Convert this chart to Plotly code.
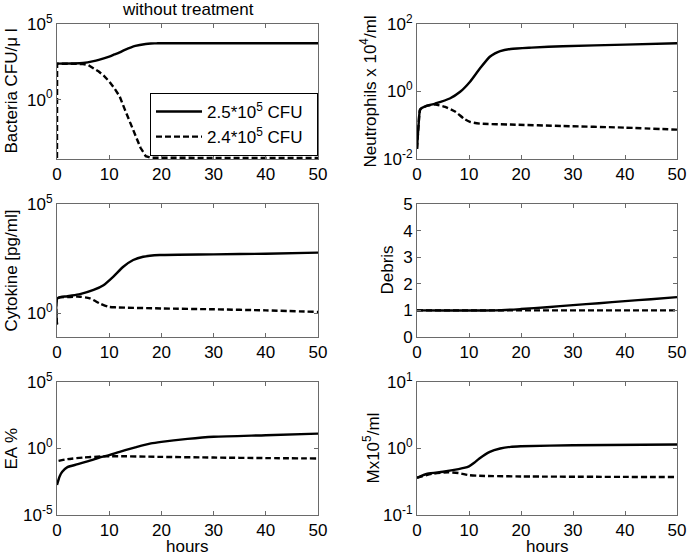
import plotly.graph_objects as go

# ---------------- data ----------------
bac_t_hi = [0, 3, 5, 7, 8, 10, 11, 12, 13, 15, 17, 18, 19, 20, 30, 50]
bac_hi = [240, 245, 263, 350, 430, 708, 977, 1350, 1950, 3550, 4790, 5130, 5250, 5370, 5370, 5370]
bac_t_lo = [0, 0.02, 3, 5, 6, 7, 8, 9, 10, 11, 12, 13, 14, 15, 16, 17, 18, 50]
bac_lo = [1.4e-4, 240, 235, 225, 190, 120, 72, 37, 16, 5.6, 1.66, 0.22, 0.029, 0.004,
          6.6e-4, 1.86e-4, 1.45e-4, 1.4e-4]

neu_t_hi = [0, 0.3, 0.6, 1, 2, 3.5, 6.3, 8.3, 10.2, 12.1, 14, 15, 16, 18, 22, 28, 40, 50]
neu_hi = [0.02, 0.1, 0.29, 0.33, 0.38, 0.44, 0.62, 0.98, 1.95, 4.8, 10.7, 13.5, 15.8,
          18.2, 20.0, 21.9, 24.5, 26.9]
neu_t_lo = [0, 0.3, 0.6, 1, 2, 3.5, 5.4, 7.4, 9, 10.2, 12.1, 18, 28, 40, 50]
neu_lo = [0.02, 0.1, 0.29, 0.33, 0.38, 0.41, 0.35, 0.25, 0.158, 0.126, 0.112, 0.105,
          0.095, 0.085, 0.074]

cyt_t_hi = [0, 0.1, 2, 4.4, 7, 8.9, 10.8, 12.7, 14.6, 16.5, 19.7, 30, 40, 50]
cyt_hi = [0.3, 4.7, 5.9, 7.4, 11.5, 19, 47, 132, 269, 380, 457, 490, 525, 589]
cyt_t_lo = [0, 0.1, 2, 4.4, 6.3, 8.2, 9.8, 11.4, 20, 30, 40, 50]
cyt_lo = [0.3, 4.7, 5.4, 5.6, 4.7, 2.75, 1.95, 1.82, 1.62, 1.48, 1.32, 1.12]

deb_t_hi = [0, 15, 20, 25, 30, 35, 40, 45, 50]
deb_hi = [1, 1, 1.05, 1.12, 1.2, 1.27, 1.35, 1.42, 1.5]
deb_t_lo = [0, 50]
deb_lo = [1, 1]

ea_t_hi = [0, 0.5, 1, 2, 4, 6, 8, 10, 12, 15, 18, 20, 25, 30, 40, 50]
ea_hi = [1.8e-3, 7.9e-3, 0.0178, 0.04, 0.066, 0.112, 0.2, 0.316, 0.56, 1.2, 2.4, 3.16,
         5.25, 7.6, 10, 13.2]
ea_t_lo = [0.3, 2, 5, 10, 20, 30, 40, 50]
ea_lo = [0.117, 0.158, 0.209, 0.263, 0.234, 0.209, 0.19, 0.178]

mx_t_hi = [0, 2, 5, 8, 9, 10, 11, 12, 14, 16, 18, 20, 30, 50]
mx_hi = [0.363, 0.417, 0.447, 0.49, 0.51, 0.54, 0.61, 0.708, 0.891, 1.0, 1.06, 1.08, 1.12, 1.15]
mx_t_lo = [0, 3, 6, 8, 10, 12, 20, 50]
mx_lo = [0.363, 0.417, 0.437, 0.427, 0.398, 0.389, 0.38, 0.372]

legend_names = ["2.5*10<sup>5</sup> CFU\u00a0\u00a0", "2.4*10<sup>5</sup> CFU\u00a0\u00a0"]
x_ticks = [0, 10, 20, 30, 40, 50]

# ---------------- layout helpers ----------------
W, H = 688, 556
cols = [(57, 318), (417, 677)]
rows = [(24, 159), (204, 337), (382, 515)]

panels = [
    dict(r=0, c=0, th=bac_t_hi, yh=bac_hi, tl=bac_t_lo, yl=bac_lo, log=True,
         rng=[-3.92, 5], tv=[1, 1e5], tt=["10<sup>0</sup>", "10<sup>5</sup>"],
         title="Bacteria CFU/\u03bc l", tx=11, lo_shape="linear"),
    dict(r=0, c=1, th=neu_t_hi, yh=neu_hi, tl=neu_t_lo, yl=neu_lo, log=True,
         rng=[-2, 2], tv=[0.01, 1, 100], tt=["10<sup>-2</sup>", "10<sup>0</sup>", "10<sup>2</sup>"],
         title="Neutrophils x 10<sup>4</sup>/ml", tx=369, lo_shape="spline"),
    dict(r=1, c=0, th=cyt_t_hi, yh=cyt_hi, tl=cyt_t_lo, yl=cyt_lo, log=True,
         rng=[-1.1, 5], tv=[1, 1e5], tt=["10<sup>0</sup>", "10<sup>5</sup>"],
         title="Cytokine [pg/ml]", tx=11, lo_shape="spline"),
    dict(r=1, c=1, th=deb_t_hi, yh=deb_hi, tl=deb_t_lo, yl=deb_lo, log=False,
         rng=[0, 5], tv=[0, 1, 2, 3, 4, 5], tt=["0", "1", "2", "3", "4", "5"],
         title="Debris", tx=387, lo_shape="linear"),
    dict(r=2, c=0, th=ea_t_hi, yh=ea_hi, tl=ea_t_lo, yl=ea_lo, log=True,
         rng=[-5, 5], tv=[1e-5, 1, 1e5], tt=["10<sup>-5</sup>", "10<sup>0</sup>", "10<sup>5</sup>"],
         title="EA %", tx=11, lo_shape="spline"),
    dict(r=2, c=1, th=mx_t_hi, yh=mx_hi, tl=mx_t_lo, yl=mx_lo, log=True,
         rng=[-1, 1], tv=[0.1, 1, 10], tt=["10<sup>-1</sup>", "10<sup>0</sup>", "10<sup>1</sup>"],
         title="Mx10<sup>5</sup>/ml", tx=371, lo_shape="spline"),
]

fig = go.Figure()
font = dict(family="Liberation Sans, Arial, sans-serif", size=17, color="black")
axis_col = "#6a6a6a"

for i, p in enumerate(panels):
    n = i + 1
    xa = "x" if n == 1 else f"x{n}"
    ya = "y" if n == 1 else f"y{n}"
    fig.add_trace(go.Scatter(x=p["th"], y=p["yh"], mode="lines", xaxis=xa, yaxis=ya,
                             line=dict(color="black", width=2.4, shape="spline", smoothing=0.7),
                             name=legend_names[0], showlegend=(n == 1)))
    lo_line = dict(color="black", width=2.4, dash="6px,3px", shape=p["lo_shape"])
    if p["lo_shape"] == "spline":
        lo_line["smoothing"] = 0.7
    fig.add_trace(go.Scatter(x=p["tl"], y=p["yl"], mode="lines", xaxis=xa, yaxis=ya,
                             line=lo_line, name=legend_names[1], showlegend=(n == 1)))
    x0, x1 = cols[p["c"]]
    y0, y1 = rows[p["r"]]
    xkey = "xaxis" if n == 1 else f"xaxis{n}"
    ykey = "yaxis" if n == 1 else f"yaxis{n}"
    fig.layout[xkey] = dict(
        domain=[x0 / W, x1 / W], anchor=ya, range=[0, 50], tickvals=x_ticks,
        ticks="inside", ticklen=4, tickcolor=axis_col, showline=True, mirror="ticks",
        linecolor=axis_col, linewidth=1, showgrid=False, zeroline=False,
        tickfont=font, automargin=False,
    )
    fig.layout[ykey] = dict(
        domain=[1 - y1 / H, 1 - y0 / H], anchor=xa,
        type="log" if p["log"] else "linear", range=p["rng"],
        tickvals=p["tv"], ticktext=p["tt"],
        ticks="inside", ticklen=4, tickcolor=axis_col, showline=True, mirror="ticks",
        linecolor=axis_col, linewidth=1, showgrid=False, zeroline=False,
        tickfont=font, automargin=False,
    )
    # y axis title
    fig.add_annotation(text=p["title"], x=p["tx"] / W, y=1 - (y0 + y1) / 2 / H,
                       xref="paper", yref="paper", showarrow=False, textangle=-90,
                       font=font, xanchor="center", yanchor="middle")
    if p["r"] == 2:
        fig.add_annotation(text="hours", x=(x0 + x1) / 2 / W, y=1 - 546 / H,
                           xref="paper", yref="paper", showarrow=False,
                           font=font, xanchor="center", yanchor="middle")

fig.add_annotation(text="without treatment", x=188 / W, y=1 - 9 / H, xref="paper",
                   yref="paper", showarrow=False, font=font, xanchor="center", yanchor="middle")

fig.update_layout(
    width=W, height=H, margin=dict(l=0, r=0, t=0, b=0),
    paper_bgcolor="white", plot_bgcolor="white", font=font,
    legend=dict(x=318 / W, xanchor="right", y=1 - 156 / H, yanchor="bottom",
                bordercolor="black", borderwidth=1, bgcolor="white",
                font=font, tracegroupgap=0, itemwidth=46),
)

fig.write_html("out.html", config={"displayModeBar": False},
               post_script="document.body.style.margin='0';document.body.style.padding='0';")
